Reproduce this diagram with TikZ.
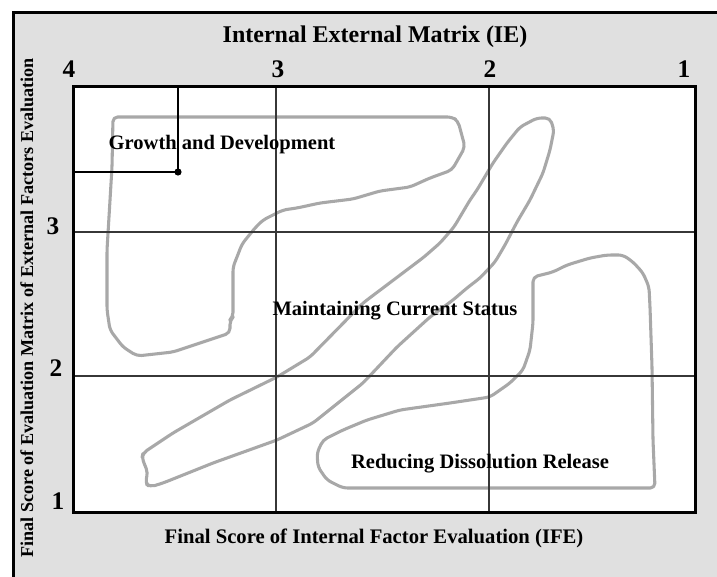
\documentclass[tikz,border=0pt]{standalone}
\usepackage{fontspec}
\setmainfont{Liberation Serif}
\usepackage{tikz}

\begin{document}
\begin{tikzpicture}[x=0.75pt,y=0.75pt,yscale=-1,xscale=1,
	zone/.style={draw={rgb, 255:red, 168; green, 168; blue, 168 },line width=2.3,rounded corners=3.5pt,line join=round},
	gridline/.style={draw={rgb, 255:red, 55; green, 55; blue, 55 },line width=1.1},
	scorenum/.style={inner sep=0pt,font=\bfseries\fontsize{19}{22}\selectfont},
	zonelabel/.style={inner sep=0pt,anchor=base,font=\bfseries\fontsize{15.4}{18}\selectfont}]
	\useasboundingbox (0,0) rectangle (717,577);
	\clip (0,0) rectangle (717,577);
	
	%Shape: Rectangle (background panel)
	\draw [fill={rgb, 255:red, 224; green, 224; blue, 224 }, line width=2.25] (13,13) rectangle (735,595);
	%Shape: Rectangle (matrix)
	\coordinate (boxNW) at (73,87);
	\coordinate (boxSE) at (695,512);
	\fill [white] (boxNW) rectangle (boxSE);
	
	%Shape: Polygon Curved (growth zone)
	\draw [zone] (113,117) -- (452,117) -- (458,121) -- (465,147) -- (452,170) -- (430,178) -- (410,187) -- (380,191) -- (353,199) -- (320,203) -- (297,208) -- (283,210) -- (263,220) -- (255,228) -- (242,244) -- (237,257) -- (233,267) -- (233,317) -- (230,320) -- (230,333) -- (200,343) -- (173,352) -- (137,356) -- (123,347) -- (110,330) -- (107,310) -- (107,250) -- (112,167) -- cycle ;
	%Shape: Polygon Curved (maintaining zone)
	\draw [zone] (537,118) -- (550,118) -- (554,130) -- (550,150) -- (543,173) -- (530,200) -- (517,222) -- (505,245) -- (495,262) -- (480,278) -- (467,288) -- (453,300) -- (430,317) -- (397,347) -- (363,383) -- (313,423) -- (277,440) -- (213,463) -- (163,483) -- (150,487) -- (145,483) -- (148,473) -- (142,458) -- (143,453) -- (173,433) -- (230,400) -- (277,377) -- (310,357) -- (363,303) -- (424,257) -- (440,243) -- (454,227) -- (470,200) -- (477,190) -- (493,163) -- (507,143) -- (520,127) -- cycle ;
	%Shape: Polygon Curved (reducing zone)
	\draw [zone] (533,277) -- (553,272) -- (567,265) -- (590,258) -- (607,255) -- (623,255) -- (633,262) -- (643,273) -- (649,287) -- (650,307) -- (652,367) -- (653,440) -- (655,488) -- (343,488) -- (327,480) -- (318,467) -- (317,453) -- (323,440) -- (343,430) -- (367,420) -- (400,410) -- (450,403) -- (490,397) -- (510,383) -- (523,370) -- (530,350) -- (533,323) -- cycle ;
	
	%Straight Lines (grid)
	\draw [gridline] (276,87) -- (276,512) ;
	\draw [gridline] (489,87) -- (489,512) ;
	\draw [gridline] (73,232) -- (695,232) ;
	\draw [gridline] (73,376) -- (695,376) ;
	\draw [line width=2.25] (boxNW) rectangle (boxSE) ;
	
	%Straight Lines (pointer)
	\coordinate (tip) at (178,172);
	\draw [line width=1.5] (tip -| boxNW) -- (tip) -- (tip |- boxNW) ;
	\fill (tip) circle (3.6) ;
	
	% Text Node
	\node (title) [inner sep=0pt,anchor=base,font=\bfseries\fontsize{18}{21}\selectfont] at (375,43) {Internal External Matrix (IE)};
	% Text Node
	\node (ifelabel) [inner sep=0pt,anchor=base,font=\bfseries\fontsize{15.5}{18}\selectfont] at (374,543) {Final Score of Internal Factor Evaluation (IFE)};
	% Text Node
	\node (efelabel) [inner sep=0pt,anchor=base,rotate=90,font=\bfseries\fontsize{13.6}{16}\selectfont] at (33,308) {Final Score of Evaluation Matrix of External Factors Evaluation};
	% Text Node
	\node (x4) [scorenum] at (69,69) {4};
	\node (x3) [scorenum] at (278,69) {3};
	\node (x2) [scorenum] at (490,69) {2};
	\node (x1) [scorenum] at (684,69) {1};
	% Text Node
	\node (y3) [scorenum] at (53,226) {3};
	\node (y2) [scorenum] at (56,368) {2};
	\node (y1) [scorenum] at (58,501) {1};
	% Text Node
	\node (growth) [zonelabel] at (222,150) {Growth and Development};
	\node (maintain) [zonelabel] at (395,315) {Maintaining Current Status};
	\node (reduce) [zonelabel] at (480,468) {Reducing Dissolution Release};
	
\end{tikzpicture}
\end{document}
